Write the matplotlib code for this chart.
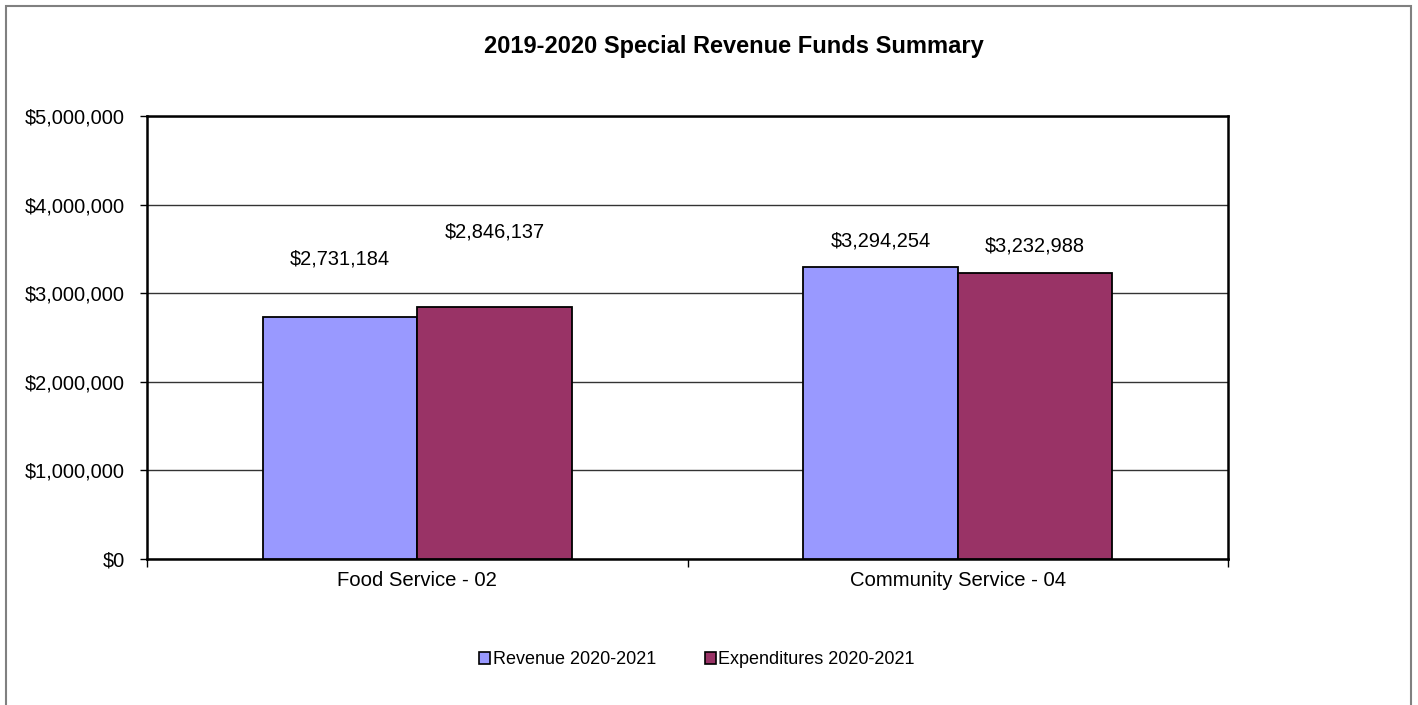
import matplotlib.pyplot as plt
import matplotlib.patches as mpatches
from matplotlib.ticker import FuncFormatter, FixedLocator

plt.rcParams["font.family"] = ["Liberation Sans", "DejaVu Sans"]

# ── data ─────────────────────────────
categories = ["Food Service - 02", "Community Service - 04"]
revenue = [2731184, 3294254]
expenditures = [2846137, 3232988]
series_names = ["Revenue 2020-2021", "Expenditures 2020-2021"]
colors = ["#9999FF", "#993366"]

# label offsets above bar top (points); food service labels were moved by hand
rev_offsets = [35, 12]
exp_offsets = [47, 12]

W, H = 1418, 705
fig = plt.figure(figsize=(W / 100, H / 100), dpi=100)
ax = fig.add_axes([147 / W, 1 - 559 / H, 1081 / W, 443 / H])

x = list(range(len(categories)))
bw = 1 / 3.5
b1 = ax.bar([i - bw / 2 for i in x], revenue, width=bw, color=colors[0],
            edgecolor="black", linewidth=1.3, zorder=3)
b2 = ax.bar([i + bw / 2 for i in x], expenditures, width=bw, color=colors[1],
            edgecolor="black", linewidth=1.3, zorder=3)

for bars, vals, offs in [(b1, revenue, rev_offsets), (b2, expenditures, exp_offsets)]:
    for b, v, o in zip(bars, vals, offs):
        ax.annotate(f"${v:,.0f}", (b.get_x() + b.get_width() / 2, v),
                    xytext=(0, o), textcoords="offset points",
                    ha="center", va="bottom", fontsize=14.4)

ax.set_xlim(-0.5, len(categories) - 0.5)
ax.set_ylim(0, 5000000)
ax.yaxis.set_major_locator(FixedLocator(range(0, 5000001, 1000000)))
ax.yaxis.set_major_formatter(FuncFormatter(lambda v, p: f"${v:,.0f}"))
ax.grid(axis="y", color="#333333", linewidth=1.0, zorder=0)
ax.set_axisbelow(True)

ax.set_xticks([-0.5, 0.5, 1.5])
ax.set_xticklabels([])
ax.set_xticks(x, minor=True)
ax.set_xticklabels(categories, minor=True, fontsize=14.6)
ax.tick_params(axis="x", which="major", length=6, width=1, direction="out")
ax.tick_params(axis="x", which="minor", length=0, pad=9)
ax.tick_params(axis="y", length=5, width=1, direction="out", labelsize=14.4, pad=11)
for s in ax.spines.values():
    s.set_linewidth(1.8)

fig.text(734 / W, 1 - 47 / H, "2019-2020 Special Revenue Funds Summary",
         ha="center", va="center", fontsize=17, fontweight="bold")

handles = [mpatches.Patch(facecolor=c, edgecolor="black", linewidth=1.2, label=n)
           for c, n in zip(colors, series_names)]
fig.legend(handles=handles, loc="center", bbox_to_anchor=(697 / W, 1 - 660 / H),
           ncol=2, frameon=False, fontsize=13, handlelength=0.6, handleheight=0.6,
           handletextpad=0.15, columnspacing=2.7)

fig.patches.append(mpatches.Rectangle((6 / W, -0.05), 1405 / W, 1 - 6 / H + 0.05,
                                      transform=fig.transFigure, fill=False,
                                      edgecolor="#808080", linewidth=1.5))

plt.savefig("out.png", dpi=100)
